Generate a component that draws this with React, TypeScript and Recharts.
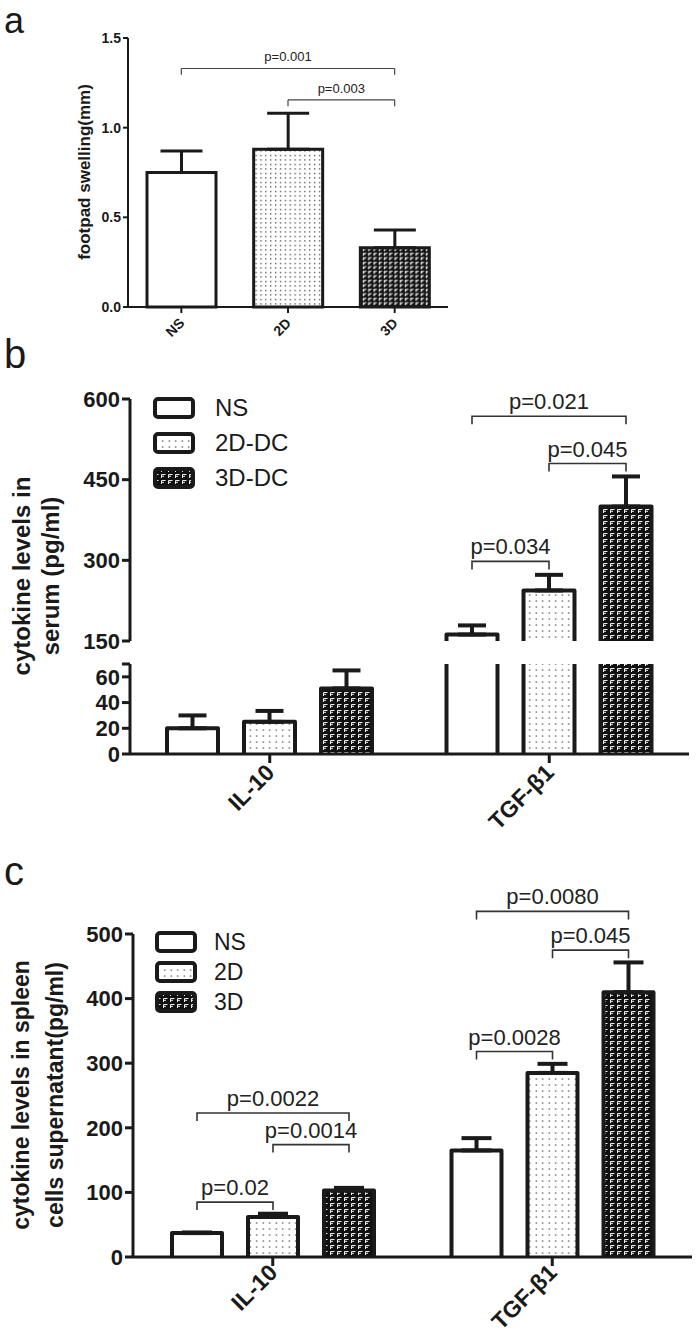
import React from "react";
import { BarChart, Bar, XAxis, YAxis, ErrorBar, Legend, ReferenceLine, Cell } from "recharts";

const FONT = '"Liberation Sans", Arial, Helvetica, sans-serif';
const INK = "#1a1a1a";

// a: footpad swelling
const footGroups = ["NS", "2D", "3D"];
const footMean = [0.75, 0.88, 0.33];
const footErr = [0.12, 0.2, 0.1];
const footTicks = [0, 0.5, 1.0, 1.5];
const footBrackets = [
  { from: 0, to: 2, level: 1.33, label: "p=0.001" },
  { from: 1, to: 2, level: 1.155, label: "p=0.003" },
];

// b: serum
const cytokines = ["IL-10", "TGF-β1"];
const serumGroups = ["NS", "2D-DC", "3D-DC"];
const serumNS = [20, 162];
const serumNSErr = [10, 17];
const serum2D = [25, 244];
const serum2DErr = [8.5, 29];
const serum3D = [51, 400];
const serum3DErr = [14, 56];
const serumUpperTicks = [150, 300, 450, 600];
const serumLowerTicks = [0, 20, 40, 60, 70];
const serumBrackets = [
  { cat: 1, from: 0, to: 2, level: 568, label: "p=0.021" },
  { cat: 1, from: 1, to: 2, level: 480, label: "p=0.045" },
  { cat: 1, from: 0, to: 1, level: 298, label: "p=0.034" },
];

// c: spleen cell supernatant
const spleenGroups = ["NS", "2D", "3D"];
const spleenNS = [37, 165];
const spleenNSErr = [1, 19];
const spleen2D = [62, 285];
const spleen2DErr = [5, 14];
const spleen3D = [103, 410];
const spleen3DErr = [4, 46];
const spleenTicks = [0, 100, 200, 300, 400, 500];
const spleenBrackets = [
  { cat: 0, from: 0, to: 1, level: 85, label: "p=0.02" },
  { cat: 0, from: 0, to: 2, level: 223, label: "p=0.0022" },
  { cat: 0, from: 1, to: 2, level: 174, label: "p=0.0014" },
  { cat: 1, from: 0, to: 1, level: 318, label: "p=0.0028" },
  { cat: 1, from: 0, to: 2, level: 535, label: "p=0.0080" },
  { cat: 1, from: 1, to: 2, level: 475, label: "p=0.045" },
];

type Bracket = { cat: number; from: number; to: number; level: number; label: string };

const patternDefs = (p: string, s = 1) => (
  <defs>
    <pattern id={`${p}-dots`} width={6.5 * s} height={6 * s} patternUnits="userSpaceOnUse">
      <rect width={6.5 * s} height={6 * s} fill="#fff" />
      <rect x={2.6 * s} y={2.4 * s} width={1.3} height={1.3} fill="#444" />
    </pattern>
    <pattern id={`${p}-weave`} width={7 * s} height={6 * s} patternUnits="userSpaceOnUse">
      <rect width={7 * s} height={6 * s} fill="#111" />
      <path
        d={`M${1.5 * s} ${1.5 * s}H${5.5 * s}M${1.5 * s} ${1.5 * s}V${5 * s}M${1.5 * s} ${3.3 * s}H${4 * s}`}
        stroke="#eee"
        strokeWidth={1}
        fill="none"
      />
    </pattern>
  </defs>
);

const fillsFor = (p: string) => ["#fff", `url(#${p}-dots)`, `url(#${p}-weave)`];

const SlantTick = (props: any) => {
  const { x, y, payload, size, dx, dy } = props;
  return (
    <text
      transform={`translate(${x + dx},${y + dy}) rotate(-45)`}
      textAnchor="end"
      fontSize={size}
      fontWeight="bold"
      fontFamily={FONT}
      fill={INK}
    >
      {payload.value}
    </text>
  );
};

const SwatchLegend = ({ names, fills, rowH, size, gap }: any) => (
  <div style={{ fontFamily: FONT }}>
    {names.map((n: string, i: number) => (
      <div key={n} style={{ display: "flex", alignItems: "center", height: rowH }}>
        <svg width={42} height={22} style={{ display: "block" }}>
          <rect x={2} y={2} width={38} height={18} rx={3} fill={fills[i]} stroke={INK} strokeWidth={4} />
        </svg>
        <span style={{ marginLeft: gap, fontSize: size, color: INK, lineHeight: 1 }}>{n}</span>
      </div>
    ))}
  </div>
);

// bar outline open at the baseline; open at the top when the value runs past the axis break
function columnShape(o: {
  key: string;
  fill: string;
  base: number;
  ceil: number;
  sw: number;
  series: number;
  gap: number;
  brackets?: Bracket[];
  pSize?: number;
  leg?: number;
}) {
  return (p: any) => {
    const v = p.payload ? p.payload[o.key] : null;
    if (v == null || !(p.height > 0)) return <g />;
    const bottom = p.y + p.height;
    const plotTop = p.background && p.background.y != null ? p.background.y : -1e9;
    const over = v > o.ceil;
    const top = over ? Math.max(p.y, plotTop) : p.y;
    const l = p.x;
    const r = p.x + p.width;
    const outline = over
      ? `M${l},${bottom}V${top}M${r},${top}V${bottom}`
      : `M${l},${bottom}V${top}H${r}V${bottom}`;
    const perUnit = (bottom - p.y) / (v - o.base);
    const yOf = (val: number) => bottom - (val - o.base) * perUnit;
    const cx = (k: number) => p.x + p.width / 2 + (k - o.series) * (p.width + o.gap);
    const marks = (o.brackets || []).filter((b) => b.cat === p.payload.idx);
    const leg = o.leg || 8;
    return (
      <g>
        <rect x={l} y={top} width={p.width} height={bottom - top} fill={o.fill} />
        <path d={outline} fill="none" stroke={INK} strokeWidth={o.sw} strokeLinejoin="round" />
        {marks.map((b) => {
          const yl = yOf(b.level);
          const x1 = cx(b.from);
          const x2 = cx(b.to);
          return (
            <g key={b.label}>
              <path
                d={`M${x1},${yl + leg}V${yl}H${x2}V${yl + leg}`}
                fill="none"
                stroke="#333"
                strokeWidth={1.6}
              />
              <text
                x={(x1 + x2) / 2}
                y={yl - 7}
                textAnchor="middle"
                fontSize={o.pSize || 22}
                fontFamily={FONT}
                fill="#222"
              >
                {b.label}
              </text>
            </g>
          );
        })}
      </g>
    );
  };
}

const groupedRows = (
  ns: number[], nsErr: number[], d2: number[], d2Err: number[], d3: number[], d3Err: number[], floor: number
) =>
  cytokines.map((cat, i) => ({
    cat,
    idx: i,
    ns: ns[i] > floor ? ns[i] : null,
    nsErr: nsErr[i],
    d2: d2[i] > floor ? d2[i] : null,
    d2Err: d2Err[i],
    d3: d3[i] > floor ? d3[i] : null,
    d3Err: d3Err[i],
  }));

const seriesKeys = [
  { key: "ns", err: "nsErr" },
  { key: "d2", err: "d2Err" },
  { key: "d3", err: "d3Err" },
];

const footRows = footGroups.map((name, i) => ({ name, mean: footMean[i], err: footErr[i] }));
const serumUpper = groupedRows(serumNS, serumNSErr, serum2D, serum2DErr, serum3D, serum3DErr, 150);
const serumLower = groupedRows(serumNS, serumNSErr, serum2D, serum2DErr, serum3D, serum3DErr, -1);
const spleenRows = groupedRows(spleenNS, spleenNSErr, spleen2D, spleen2DErr, spleen3D, spleen3DErr, -1);

const tickStyle = (size: number) => ({ fontSize: size, fontWeight: "bold", fill: INK, fontFamily: FONT });

function groupedBars(
  prefix: string,
  opts: { base: number; ceil: number; gap: number; brackets?: Bracket[]; capW: number; errFloor: number }
) {
  const fills = fillsFor(prefix);
  return seriesKeys.map((s, i) => (
    <Bar
      key={s.key}
      dataKey={s.key}
      fill={fills[i]}
      isAnimationActive={false}
      shape={columnShape({
        key: s.key,
        fill: fills[i],
        base: opts.base,
        ceil: opts.ceil,
        sw: 4,
        series: i,
        gap: opts.gap,
        brackets: i === 2 ? opts.brackets : undefined,
      })}
    >
      <ErrorBar
        dataKey={(d: any) =>
          d[s.key] != null && d[s.key] > opts.errFloor && d[s.key] + d[s.err] <= opts.ceil ? [0, d[s.err]] : null
        }
        direction="y"
        width={opts.capW}
        strokeWidth={4}
        stroke={INK}
        isAnimationActive={false}
      />
    </Bar>
  ));
}

export default function App() {
  return (
    <div style={{ position: "absolute", left: 0, top: 0, width: 700, height: 1339, background: "#fff", fontFamily: FONT }}>
      {/* a */}
      <div style={{ position: "absolute", left: 0, top: 0 }}>
        <BarChart width={700} height={360} data={footRows} margin={{ top: 38, right: 252, bottom: 8, left: 0 }} barSize={69}>
          {patternDefs("a", 0.75)}
          <XAxis
            dataKey="name"
            height={45}
            interval={0}
            tickSize={6}
            axisLine={{ stroke: INK, strokeWidth: 2 }}
            tickLine={{ stroke: INK, strokeWidth: 2 }}
            tick={<SlantTick size={14} dx={4} dy={9} />}
          />
          <YAxis
            width={128}
            domain={[0, 1.5]}
            ticks={footTicks}
            interval={0}
            tickFormatter={(v: number) => v.toFixed(1)}
            tickSize={5}
            axisLine={{ stroke: INK, strokeWidth: 2 }}
            tickLine={{ stroke: INK, strokeWidth: 2 }}
            tick={tickStyle(14)}
          />
          <Bar dataKey="mean" stroke={INK} strokeWidth={3} isAnimationActive={false}>
            {footRows.map((r, i) => (
              <Cell key={r.name} fill={fillsFor("a")[i]} />
            ))}
            <ErrorBar
              dataKey={(d: any) => [0, d.err]}
              direction="y"
              width={21}
              strokeWidth={3}
              stroke={INK}
              isAnimationActive={false}
            />
          </Bar>
          {footBrackets.map((b) => (
            <ReferenceLine
              key={b.label}
              segment={[{ x: footGroups[b.from], y: b.level }, { x: footGroups[b.to], y: b.level }]}
              stroke="#444"
              strokeWidth={1.2}
              label={{ value: b.label, position: "top", offset: 7, fontSize: 13, fill: "#222", fontFamily: FONT }}
            />
          ))}
          {footBrackets.flatMap((b) =>
            [b.from, b.to].map((k) => (
              <ReferenceLine
                key={`${b.label}-${k}`}
                segment={[{ x: footGroups[k], y: b.level }, { x: footGroups[k], y: b.level - 0.035 }]}
                stroke="#444"
                strokeWidth={1.2}
              />
            ))
          )}
        </BarChart>
      </div>

      {/* b, upper segment */}
      <div style={{ position: "absolute", left: 0, top: 340 }}>
        <BarChart
          width={700}
          height={420}
          data={serumUpper}
          margin={{ top: 59, right: 11, bottom: 119, left: 0 }}
          barSize={51}
          barGap={26}
        >
          {patternDefs("b")}
          <XAxis dataKey="cat" hide />
          <YAxis
            width={130}
            domain={[150, 600]}
            ticks={serumUpperTicks}
            interval={0}
            tickSize={8}
            axisLine={{ stroke: INK, strokeWidth: 3 }}
            tickLine={{ stroke: INK, strokeWidth: 3 }}
            tick={tickStyle(22)}
          />
          {groupedBars("b", { base: 150, ceil: 600, gap: 26, brackets: serumBrackets, capW: 14, errFloor: 150 })}
          <Legend
            layout="vertical"
            align="center"
            verticalAlign="middle"
            wrapperStyle={{ left: 153, top: 50, width: 220 }}
            content={() => <SwatchLegend names={serumGroups} fills={fillsFor("b")} rowH={35} size={24} gap={20} />}
          />
        </BarChart>
      </div>

      {/* b, lower segment */}
      <div style={{ position: "absolute", left: 0, top: 655 }}>
        <BarChart
          width={700}
          height={200}
          data={serumLower}
          margin={{ top: 9, right: 11, bottom: 31, left: 0 }}
          barSize={51}
          barGap={26}
        >
          {patternDefs("bl")}
          <XAxis
            dataKey="cat"
            height={70}
            interval={0}
            tickSize={9}
            axisLine={{ stroke: INK, strokeWidth: 3 }}
            tickLine={{ stroke: INK, strokeWidth: 3 }}
            tick={<SlantTick size={23} dx={6} dy={9} />}
          />
          <YAxis
            width={130}
            domain={[0, 70]}
            allowDataOverflow
            ticks={serumLowerTicks}
            interval={0}
            tickFormatter={(v: number) => (v === 70 ? "" : String(v))}
            tickSize={8}
            axisLine={{ stroke: INK, strokeWidth: 3 }}
            tickLine={{ stroke: INK, strokeWidth: 3 }}
            tick={tickStyle(22)}
          />
          {groupedBars("bl", { base: 0, ceil: 70, gap: 26, capW: 14, errFloor: -1 })}
        </BarChart>
      </div>

      {/* c */}
      <div style={{ position: "absolute", left: 0, top: 860 }}>
        <BarChart
          width={700}
          height={479}
          data={spleenRows}
          margin={{ top: 74, right: 8, bottom: 12, left: 0 }}
          barSize={50}
          barGap={26}
        >
          {patternDefs("c")}
          <XAxis
            dataKey="cat"
            height={70}
            interval={0}
            tickSize={9}
            axisLine={{ stroke: INK, strokeWidth: 3 }}
            tickLine={{ stroke: INK, strokeWidth: 3 }}
            tick={<SlantTick size={23} dx={6} dy={6} />}
          />
          <YAxis
            width={133}
            domain={[0, 500]}
            ticks={spleenTicks}
            interval={0}
            tickSize={8}
            axisLine={{ stroke: INK, strokeWidth: 3 }}
            tickLine={{ stroke: INK, strokeWidth: 3 }}
            tick={tickStyle(22)}
          />
          {groupedBars("c", { base: 0, ceil: 500, gap: 26, brackets: spleenBrackets, capW: 15, errFloor: -1 })}
          <Legend
            layout="vertical"
            align="center"
            verticalAlign="middle"
            wrapperStyle={{ left: 155, top: 67, width: 200 }}
            content={() => <SwatchLegend names={spleenGroups} fills={fillsFor("c")} rowH={30} size={23} gap={17} />}
          />
        </BarChart>
      </div>

      {/* panel letters and axis titles */}
      <svg
        width={700}
        height={1339}
        style={{ position: "absolute", left: 0, top: 0, pointerEvents: "none" }}
        fontFamily={FONT}
      >
        <text x={4} y={33} fontSize={36} fill={INK}>a</text>
        <text x={4} y={368} fontSize={40} fill={INK}>b</text>
        <text x={4} y={885} fontSize={40} fill={INK}>c</text>
        <text transform="translate(90,172) rotate(-90)" textAnchor="middle" fontSize={17} fontWeight="bold" fill={INK}>
          footpad swelling(mm)
        </text>
        <text transform="translate(30,576) rotate(-90)" textAnchor="middle" fontSize={24} fontWeight="bold" fill={INK}>
          cytokine levels in
        </text>
        <text transform="translate(59,576) rotate(-90)" textAnchor="middle" fontSize={24} fontWeight="bold" fill={INK}>
          serum (pg/ml)
        </text>
        <text transform="translate(29,1095) rotate(-90)" textAnchor="middle" fontSize={23} fontWeight="bold" fill={INK}>
          cytokine levels in spleen
        </text>
        <text transform="translate(63,1095) rotate(-90)" textAnchor="middle" fontSize={23} fontWeight="bold" fill={INK}>
          cells supernatant(pg/ml)
        </text>
      </svg>
    </div>
  );
}
